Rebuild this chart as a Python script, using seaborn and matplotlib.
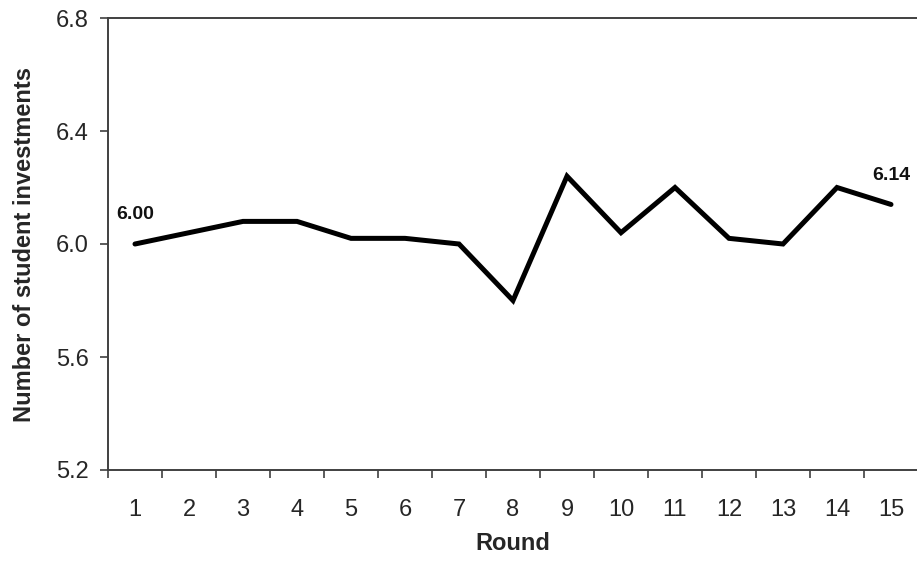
import matplotlib
matplotlib.use('Agg')
import matplotlib.pyplot as plt
from matplotlib.ticker import FixedLocator
import pandas as pd
import seaborn as sns

# data
rounds = list(range(1, 16))
investments = [6.00, 6.04, 6.08, 6.08, 6.02, 6.02, 6.00, 5.80,
               6.24, 6.04, 6.20, 6.02, 6.00, 6.20, 6.14]
y_ticks = [5.2, 5.6, 6.0, 6.4, 6.8]
labelled = {1: "6.00", 15: "6.14"}

df = pd.DataFrame({'Round': rounds, 'Investments': investments})

sns.set_style('ticks')
plt.rcParams['font.family'] = ['Liberation Sans', 'DejaVu Sans']

fig = plt.figure(figsize=(9.17, 5.61), dpi=100)
ax = fig.add_axes([108 / 917, 1 - 470 / 561, 810 / 917, 452 / 561])

sns.lineplot(data=df, x='Round', y='Investments', color='black',
             linewidth=3.6, ax=ax, solid_joinstyle='miter')

# value labels
for r, txt in labelled.items():
    v = investments[r - 1]
    ax.annotate(txt, (r, v), xytext=(0, 15), textcoords='offset points',
                ha='center', va='bottom', fontsize=14, fontweight='bold',
                color='#111111')

ax.set_xlim(0.5, 15.5)
ax.set_ylim(5.2, 6.8)
ax.set_yticks(y_ticks)
ax.set_yticklabels([f"{t:.1f}" for t in y_ticks])

# Excel-style category axis: ticks between categories, labels at centers
ax.xaxis.set_major_locator(FixedLocator([i + 0.5 for i in range(0, 16)]))
ax.xaxis.set_minor_locator(FixedLocator(rounds))
ax.set_xticklabels([])
ax.set_xticklabels([str(r) for r in rounds], minor=True)
ax.tick_params(axis='x', which='minor', length=0, pad=21, labelsize=17)
ax.tick_params(axis='x', which='major', length=6, width=1.2, color='#404040')
ax.tick_params(axis='y', length=6, width=1.2, color='#404040', labelsize=17, pad=8)

ax.set_xlabel('Round', fontsize=17, fontweight='bold', labelpad=8)
ax.set_ylabel('Number of student investments', fontsize=17, fontweight='bold', labelpad=14)

for side in ['left', 'bottom', 'top']:
    ax.spines[side].set_color('#404040')
    ax.spines[side].set_linewidth(1.4)
ax.spines['right'].set_visible(False)

fig.savefig('out.png', dpi=100)
